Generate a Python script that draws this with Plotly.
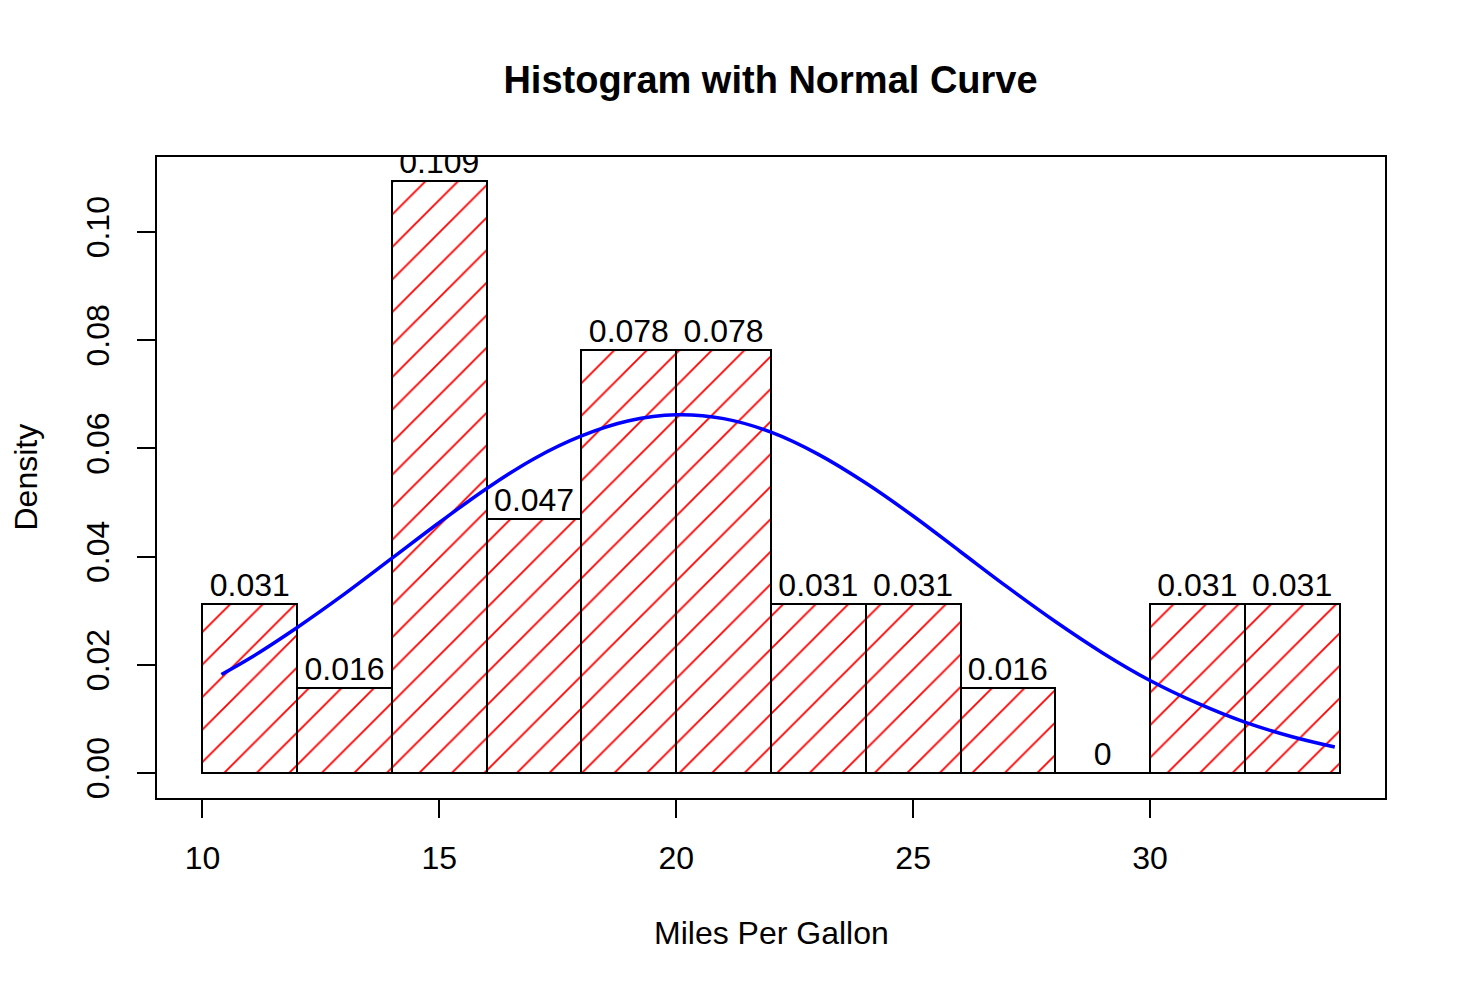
import plotly.graph_objects as go

# Histogram data (mtcars mpg, breaks of width 2)
bin_starts = [10, 12, 14, 16, 18, 20, 22, 24, 26, 28, 30, 32]
bin_width = 2
densities = [0.03125, 0.015625, 0.109375, 0.046875, 0.078125, 0.078125,
             0.03125, 0.03125, 0.015625, 0.0, 0.03125, 0.03125]
bar_labels = ["0.031", "0.016", "0.109", "0.047", "0.078", "0.078",
              "0.031", "0.031", "0.016", "0", "0.031", "0.031"]

# Normal curve points
curve_x = [10.4, 11, 12, 13, 14, 15, 16, 17, 18, 19, 20, 21, 22, 23, 24, 25,
           26, 27, 28, 29, 30, 31, 32, 33, 33.9]
curve_y = [0.0182, 0.0212, 0.0269, 0.0331, 0.0397, 0.0463, 0.0526, 0.0581,
           0.0623, 0.0651, 0.0662, 0.0655, 0.0630, 0.0589, 0.0536, 0.0475,
           0.0409, 0.0343, 0.0280, 0.0222, 0.0171, 0.0129, 0.0094, 0.0067,
           0.0048]

x_ticks = [10, 15, 20, 25, 30]
y_ticks = [0.00, 0.02, 0.04, 0.06, 0.08, 0.10]
y_tick_labels = ["0.00", "0.02", "0.04", "0.06", "0.08", "0.10"]

mids = [s + bin_width / 2 for s in bin_starts]

FONT = "Liberation Sans, Arial, sans-serif"
FS = 32
OFF = 8  # page body margin offset

fig = go.Figure()

fig.add_trace(go.Bar(
    x=mids, y=densities, width=[bin_width] * len(mids),
    marker=dict(
        color="white",
        line=dict(color="black", width=2),
        pattern=dict(shape="/", fgcolor="red", bgcolor="white",
                     size=23, solidity=0.08, fillmode="replace"),
    ),
    showlegend=False, hoverinfo="skip",
))

fig.add_trace(go.Scatter(
    x=mids, y=densities, mode="text", text=bar_labels,
    textposition="top center",
    textfont=dict(family=FONT, size=FS, color="black"),
    cliponaxis=True, showlegend=False, hoverinfo="skip",
))

fig.add_trace(go.Scatter(
    x=curve_x, y=curve_y, mode="lines",
    line=dict(color="blue", width=3.5, shape="spline"),
    showlegend=False, hoverinfo="skip",
))

fig.update_layout(
    width=1466, height=994,
    margin=dict(l=157 - OFF, r=81 + OFF, t=157 - OFF, b=196 + OFF),
    paper_bgcolor="white", plot_bgcolor="white",
    bargap=0,
    font=dict(family=FONT, size=FS, color="black"),
    title=dict(text="<b>Histogram with Normal Curve</b>",
               x=(770.5 - OFF) / 1466, xanchor="center",
               y=1 - (80 - OFF) / 994, yanchor="middle",
               font=dict(family=FONT, size=38, color="black")),
    xaxis=dict(range=[9.04, 34.96], tickvals=x_ticks,
               ticktext=[str(v) for v in x_ticks],
               showgrid=False, zeroline=False,
               showline=True, mirror=True, linecolor="black", linewidth=2,
               ticks="outside", ticklen=18, tickwidth=2, tickcolor="black",
               ticklabelstandoff=13,
               tickfont=dict(family=FONT, size=FS, color="black")),
    yaxis=dict(range=[-0.00462, 0.11386], tickvals=y_ticks,
               ticktext=y_tick_labels, tickangle=-90,
               showgrid=False, zeroline=False,
               showline=True, mirror=True, linecolor="black", linewidth=2,
               ticks="outside", ticklen=18, tickwidth=2, tickcolor="black",
               ticklabelstandoff=15,
               tickfont=dict(family=FONT, size=FS, color="black")),
    annotations=[
        dict(text="Miles Per Gallon", xref="paper", yref="paper",
             x=0.5, y=0, xanchor="center", yanchor="middle", yshift=-135,
             showarrow=False, font=dict(family=FONT, size=FS, color="black")),
        dict(text="Density", xref="paper", yref="paper",
             x=0, y=0.5, xanchor="center", yanchor="middle", xshift=-132,
             textangle=-90, showarrow=False,
             font=dict(family=FONT, size=FS, color="black")),
    ],
)

fig.write_html("out.html")
